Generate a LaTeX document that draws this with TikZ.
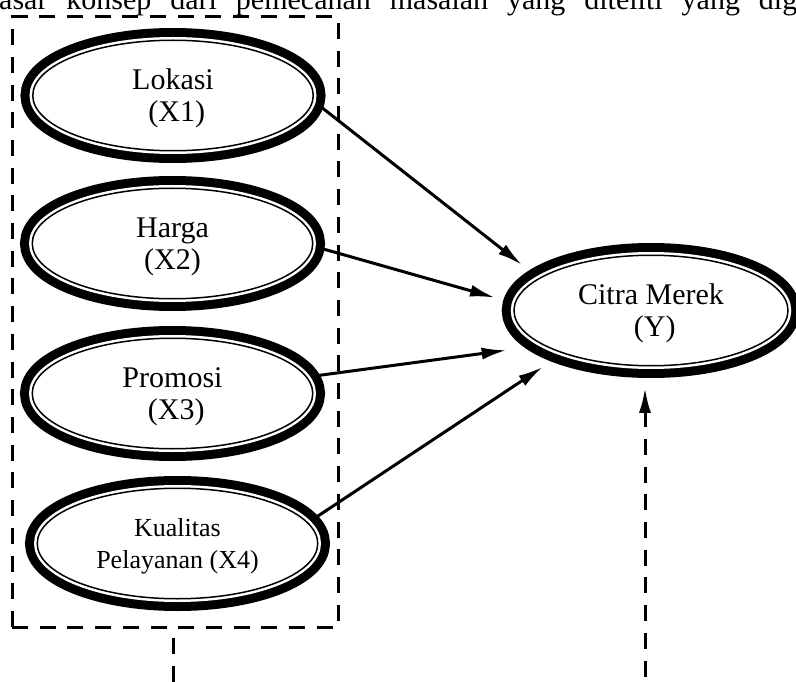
\documentclass[tikz,border=0pt]{standalone}
\usepackage{fontspec}
\setmainfont{Liberation Serif}
\usepackage{tikz}
\usetikzlibrary{arrows.meta,shapes.geometric}
\tikzset{>={Latex[length=25pt,width=12pt]}}
\tikzset{
  latent/.style={ellipse, fill=white, draw, line width=1.5pt,
    inner sep=0pt, outer sep=0pt, align=center, text depth=0pt,
    minimum width=280.5pt, minimum height=110.5pt,
    preaction={draw, line width=24.5pt},
    preaction={draw=white, line width=6.5pt},
    font=\fontsize{30}{32}\selectfont},
  dashline/.style={line width=3pt, dash pattern=on 16pt off 11.7pt},
}

\begin{document}
\begin{tikzpicture}[x=1pt,y=-1pt]
\useasboundingbox (0,0) rectangle (796,682);
\clip (0,0) rectangle (796,682);

% Running text above the figure
\node[anchor=base west, inner sep=0pt, font=\fontsize{30}{32}\selectfont] (intro) at (-1,9.5)
  {\makebox[798pt][s]{asar konsep dari pemecahan masalah yang diteliti yang dig}};

% Dashed box round the X variables
\node[draw, dashline, inner sep=0pt, outer sep=0pt, minimum width=326pt, minimum height=610pt] (xbox) at (175,322) {};

% Variables
\node[latent] (lok) at (173,95.5) {Lokasi\\~(X1)};
\node[latent] (harga) at (172.5,243.5) {Harga\\(X2)};
\node[latent] (promosi) at (172.5,393.5) {Promosi\\~(X3)};
\node[latent, font=\fontsize{26}{32}\selectfont] (kualitas) at (177.5,543.5) {Kualitas\\Pelayanan (X4)};
\node[latent, minimum width=274pt] (citra) at (651,310.5) {Citra Merek\\~(Y)};

% Arrows
\foreach \x/\a/\b/\s in {lok/-2.5/164.1/22, harga/-1.8/177.5/21, promosi/7.8/198/38, kualitas/9.5/206.2/25}
  \draw[->, line width=3pt, shorten <=6pt, shorten >=\s pt] (\x.\a) -- (citra.\b);

% Dashed lines leaving the figure
\coordinate (xbot) at (173,682);
\coordinate (ybot) at (645,682);
\draw[dashline, shorten <=11pt] (xbox.south -| xbot) -- (xbot);
\draw[dashline, <-, shorten <=22pt] (citra.south -| ybot) -- (ybot);
\end{tikzpicture}
\end{document}
